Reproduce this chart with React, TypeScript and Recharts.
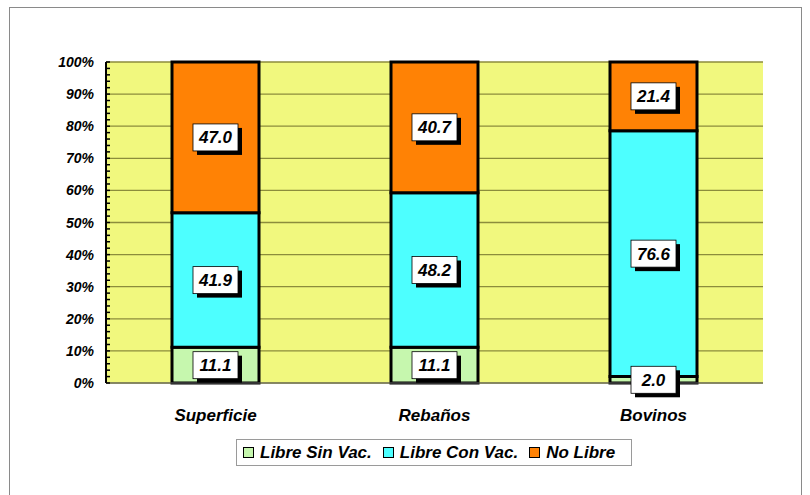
import React from "react";
import {
  BarChart,
  Bar,
  XAxis,
  YAxis,
  CartesianGrid,
  LabelList,
} from "recharts";

const categories = ["Superficie", "Rebaños", "Bovinos"];
const libreSinVac = [11.1, 11.1, 2.0];
const libreConVac = [41.9, 48.2, 76.6];
const noLibre = [47.0, 40.7, 21.4];
const majorTicks = [0, 10, 20, 30, 40, 50, 60, 70, 80, 90, 100];
const minorTicks = Array.from({ length: 51 }, (_, i) => i * 2);

const data = categories.map((name, i) => ({
  name,
  sin: libreSinVac[i],
  con: libreConVac[i],
  no: noLibre[i],
}));

const FONT = "'Liberation Sans', Arial, sans-serif";

const series = [
  { key: "sin", label: "Libre Sin Vac.", color: "#C6F7AE" },
  { key: "con", label: "Libre Con Vac.", color: "#4DFFFF" },
  { key: "no", label: "No Libre", color: "#FF8205" },
];

const ValueBox = (props: any) => {
  const { x, y, width, height, value } = props;
  const cx = x + width / 2;
  const cy = y + height / 2;
  const w = 45;
  const h = 27;
  return (
    <g>
      <rect x={cx - w / 2 + 4} y={cy - h / 2 + 4} width={w} height={h} fill="#000" />
      <rect x={cx - w / 2} y={cy - h / 2} width={w} height={h} fill="#fff" stroke="#000" strokeWidth={0.8} />
      <text
        x={cx}
        y={cy + 6}
        textAnchor="middle"
        fontFamily={FONT}
        fontWeight="bold"
        fontStyle="italic"
        fontSize={17}
        fill="#000"
      >
        {Number(value).toFixed(1)}
      </text>
    </g>
  );
};

const YTick = (props: any) => {
  const { x, y, payload } = props;
  const v = payload.value;
  return (
    <g>
      <line x1={x} y1={y} x2={x + 4} y2={y} stroke="#000" strokeWidth={1.5} />
      {v % 10 === 0 && (
        <text
          x={x - 12}
          y={y + 5}
          textAnchor="end"
          fontFamily={FONT}
          fontWeight="bold"
          fontStyle="italic"
          fontSize={14}
          fill="#000"
        >
          {v}%
        </text>
      )}
    </g>
  );
};

export default function App() {
  return (
    <div style={{ position: "absolute", left: 0, top: 0, width: 810, height: 495, background: "#fff" }}>
      <div
        style={{
          position: "absolute",
          left: 9,
          top: 7,
          width: 793,
          height: 492,
          border: "1px solid #8a8a8a",
          boxSizing: "border-box",
        }}
      />
      <div style={{ position: "absolute", left: 0, top: 0 }}>
        <BarChart
          width={810}
          height={495}
          data={data}
          margin={{ top: 62, right: 47, bottom: 72, left: 46 }}
          barCategoryGap="20%"
        >
          <CartesianGrid
            vertical={false}
            horizontalValues={majorTicks}
            stroke="#8c8c3c"
            strokeWidth={1.3}
            fill="#F1F87E"
          />
          <XAxis
            dataKey="name"
            axisLine={{ stroke: "#666", strokeWidth: 1 }}
            tickLine={false}
            tickMargin={20}
            height={40}
            tick={{ fontFamily: FONT, fontWeight: "bold", fontStyle: "italic", fontSize: 17, fill: "#000" }}
          />
          <YAxis
            type="number"
            domain={[0, 100]}
            ticks={minorTicks}
            interval={0}
            width={60}
            tickLine={false}
            tickSize={0}
            tickMargin={0}
            axisLine={{ stroke: "#000", strokeWidth: 2 }}
            tick={<YTick />}
          />
          {series.map((s) => (
            <Bar
              key={s.key}
              dataKey={s.key}
              stackId="a"
              fill={s.color}
              stroke="#000"
              strokeWidth={3}
              barSize={87}
              isAnimationActive={false}
            >
              <LabelList dataKey={s.key} content={<ValueBox />} />
            </Bar>
          ))}
        </BarChart>
      </div>
      <div
        style={{
          position: "absolute",
          left: 236,
          top: 439,
          width: 396,
          height: 27,
          border: "1px solid #9a9a9a",
          boxSizing: "border-box",
          display: "flex",
          alignItems: "center",
          paddingLeft: 6,
          fontFamily: FONT,
          fontWeight: "bold",
          fontStyle: "italic",
          fontSize: 17,
          color: "#000",
          whiteSpace: "nowrap",
        }}
      >
        {series.map((s) => (
          <div key={s.key} style={{ display: "flex", alignItems: "center", marginRight: 11 }}>
            <span
              style={{
                display: "inline-block",
                width: 9,
                height: 9,
                background: s.color,
                border: "1.5px solid #000",
                marginRight: 6,
              }}
            />
            <span>{s.label}</span>
          </div>
        ))}
      </div>
    </div>
  );
}
